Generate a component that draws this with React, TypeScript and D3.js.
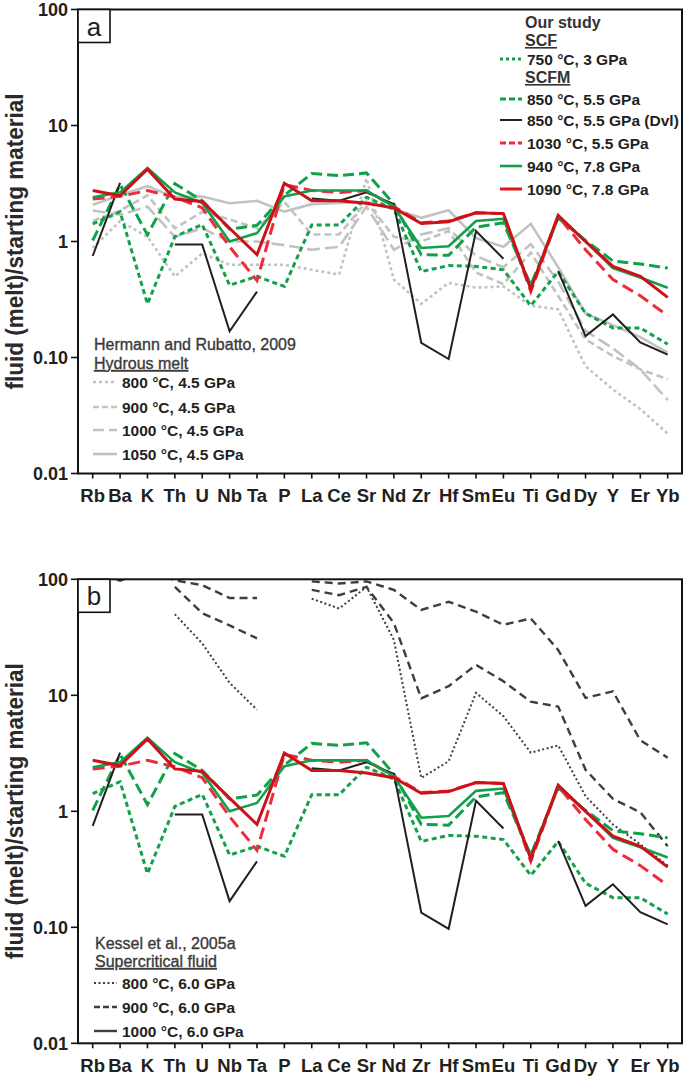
import React from 'react';
import * as d3 from 'd3';

type V = number | null;

const ELEMENTS = ["Rb","Ba","K","Th","U","Nb","Ta","P","La","Ce","Sr","Nd","Zr","Hf","Sm","Eu","Ti","Gd","Dy","Y","Er","Yb"];
const Y_TICKS = [100, 10, 1, 0.1, 0.01];
const Y_TICK_LABELS = ["100", "10", "1", "0.10", "0.01"];

// Our study
const SCF_750_3: V[] = [1.42, 1.8, 0.29, 1.1, 1.4, 0.42, 0.5, 0.41, 1.39, 1.39, 2.4, 1.9, 0.55, 0.62, 0.61, 0.57, 0.28, 0.55, 0.24, 0.18, 0.18, 0.13];
const SCFM_850_55: V[] = [1.02, 3.1, 1.14, 3.15, 2.25, 1.28, 1.38, 2.5, 3.85, 3.7, 3.9, 2.1, 0.77, 0.76, 1.33, 1.45, 0.42, 1.6, 1.02, 0.68, 0.64, 0.59];
const SCFM_850_55_DVL: V[] = [0.75, 3.2, null, 0.94, 0.94, 0.168, 0.37, null, 2.35, 2.25, 2.65, 2.1, 0.134, 0.097, 1.23, 0.71, null, 0.555, 0.153, 0.235, 0.135, 0.106];
const SCFM_1030_55: V[] = [2.32, 2.45, 2.75, 2.42, 1.95, 0.9, 0.46, 3.1, 2.75, 2.65, 2.75, 2.0, 1.45, 1.5, 1.77, 1.74, 0.37, 1.65, 0.85, 0.47, 0.34, 0.23];
const SCFM_940_78: V[] = [2.4, 2.65, 4.3, 2.65, 2.15, 1.0, 1.18, 2.45, 2.75, 2.75, 2.75, 2.0, 0.88, 0.91, 1.5, 1.57, 0.4, 1.65, 1.0, 0.59, 0.49, 0.4];
const SCFM_1090_78: V[] = [2.75, 2.48, 4.2, 2.32, 2.21, 1.3, 0.77, 3.18, 2.25, 2.25, 2.14, 1.95, 1.43, 1.48, 1.77, 1.74, 0.39, 1.68, 1.0, 0.61, 0.5, 0.33];

// Hermann and Rubatto, 2009 (hydrous melt, 4.5 GPa)
const HR_800: V[] = [0.88, 1.5, 1.1, 0.5, 0.79, 0.63, 0.63, 0.63, 0.57, 0.52, 3.5, 0.47, 0.29, 0.44, 0.4, 0.41, 0.28, 0.26, 0.084, 0.053, 0.036, 0.022];
const HR_900: V[] = [1.5, 1.85, 2.5, 1.3, 1.8, 1.55, 1.3, 2.2, 1.15, 1.15, 2.2, 1.1, 1.0, 1.23, 0.54, 0.43, 0.8, 0.34, 0.143, 0.103, 0.079, 0.065];
const HR_1000: V[] = [1.85, 1.7, 2.0, 1.1, 1.3, 1.0, 1.0, 0.93, 0.85, 0.9, 2.0, 0.85, 1.15, 1.3, 0.75, 0.6, 0.95, 0.45, 0.17, 0.12, 0.079, 0.043];
const HR_1050: V[] = [2.07, 2.5, 3.0, 2.4, 2.44, 2.14, 2.24, 1.81, 2.1, 2.15, 2.2, 1.9, 1.6, 1.86, 1.07, 0.9, 1.42, 0.6, 0.24, 0.19, 0.15, 0.11];

// Kessel et al., 2005a (supercritical fluid, 6.0 GPa)
const K_800: V[] = [null, null, null, 50, 28, 12.8, 7.5, null, 68, 56, 86, 30, 1.94, 2.7, 10.5, 6.6, 3.2, 3.7, 1.35, 0.77, 0.52, 0.34];
const K_900: V[] = [null, null, null, 86, 51, 40, 31, null, 81, 73, 86, 42, 9.4, 12, 18.3, 13.2, 8.8, 8.0, 2.28, 1.28, 0.98, 0.5];
const K_1000: V[] = [120, 97, 120, 98, 89, 69, 69, null, 96, 92, 96, 81, 54.5, 64, 52.6, 40.5, 46, 24.6, 9.5, 10.8, 4.1, 2.9];

const FONT = "'Liberation Sans', Arial, Helvetica, sans-serif";
const GREEN = "#13a04b";
const RED = "#cc1118";
const RED_D = "#ee2a3b";
const BLACK = "#231f20";
const GRAY = "#c2c2c2";
const DGRAY = "#3e3e3e";

const X_LEFT = 78;
const X_RIGHT = 682;
const xScale = d3.scalePoint<string>().domain(ELEMENTS).range([92.7, 667.7]);

type Style = { color: string; width: number; dash?: string };
type Series = { name: string; values: V[]; style: Style };

const S_SCF750: Style = { color: GREEN, width: 3, dash: "5,3.5" };
const S_850: Style = { color: GREEN, width: 3, dash: "11,5" };
const S_DVL: Style = { color: BLACK, width: 2 };
const S_1030: Style = { color: RED_D, width: 3, dash: "12,6" };
const S_940: Style = { color: GREEN, width: 2.6 };
const S_1090: Style = { color: RED, width: 3 };
const S_HR800: Style = { color: GRAY, width: 2.6, dash: "3,3" };
const S_HR900: Style = { color: GRAY, width: 2.6, dash: "7,4" };
const S_HR1000: Style = { color: GRAY, width: 2.6, dash: "13,5" };
const S_HR1050: Style = { color: GRAY, width: 2.6 };
const S_K800: Style = { color: DGRAY, width: 2, dash: "2,2.5" };
const S_K900: Style = { color: DGRAY, width: 2.4, dash: "8,5" };
const S_K1000: Style = { color: DGRAY, width: 2.4, dash: "8,5" };

const OUR: Series[] = [
  { name: "750", values: SCF_750_3, style: S_SCF750 },
  { name: "850", values: SCFM_850_55, style: S_850 },
  { name: "dvl", values: SCFM_850_55_DVL, style: S_DVL },
  { name: "1030", values: SCFM_1030_55, style: S_1030 },
  { name: "940", values: SCFM_940_78, style: S_940 },
  { name: "1090", values: SCFM_1090_78, style: S_1090 },
];
const HR: Series[] = [
  { name: "hr800", values: HR_800, style: S_HR800 },
  { name: "hr900", values: HR_900, style: S_HR900 },
  { name: "hr1000", values: HR_1000, style: S_HR1000 },
  { name: "hr1050", values: HR_1050, style: S_HR1050 },
];
const KES: Series[] = [
  { name: "k800", values: K_800, style: S_K800 },
  { name: "k900", values: K_900, style: S_K900 },
  { name: "k1000", values: K_1000, style: S_K1000 },
];

type LegendItem = { kind: 'head' | 'sub' | 'item'; text: string; style?: Style; y: number; bold?: boolean };

function LegendBlock({ items, textX, lineX0, lineX1, headColor }: { items: LegendItem[]; textX: number; lineX0: number; lineX1: number; headColor: string }) {
  return (
    <g fontFamily={FONT}>
      {items.map((it, i) => {
        if (it.kind === 'item') {
          return (
            <g key={i}>
              <line x1={lineX0} x2={lineX1} y1={it.y} y2={it.y} stroke={it.style!.color} strokeWidth={it.style!.width} strokeDasharray={it.style!.dash} />
              <text x={lineX1 + 5} y={it.y + 6} fontSize={15.5} fontWeight="bold" fill={BLACK}>{it.text}</text>
            </g>
          );
        }
        return (
          <text key={i} x={textX} y={it.y + 6} fontSize={16} fontWeight={it.bold ? 'bold' : 'normal'} fill={headColor}
            stroke={it.bold ? undefined : headColor} strokeWidth={it.bold ? undefined : 0.35}
            textDecoration={it.kind === 'sub' ? 'underline' : undefined}>{it.text}</text>
        );
      })}
    </g>
  );
}

function Panel({ top, bottom, label, series, id, children }: { top: number; bottom: number; label: string; series: Series[]; id: string; children?: React.ReactNode }) {
  const y = d3.scaleLog().domain([0.01, 100]).range([bottom, top]);
  const line = d3.line<V>()
    .defined(d => d != null)
    .x((_, i) => xScale(ELEMENTS[i]) as number)
    .y(d => y(d as number));
  const midY = (top + bottom) / 2;
  return (
    <g>
      <defs>
        <clipPath id={id}>
          <rect x={X_LEFT} y={top} width={X_RIGHT - X_LEFT} height={bottom - top} />
        </clipPath>
      </defs>
      <g clipPath={`url(#${id})`}>
        {series.map(s => (
          <path key={s.name} d={line(s.values) || ''} fill="none" stroke={s.style.color} strokeWidth={s.style.width}
            strokeDasharray={s.style.dash} strokeLinejoin="miter" strokeMiterlimit={3} />
        ))}
      </g>
      {children}
      <rect x={X_LEFT} y={top} width={X_RIGHT - X_LEFT} height={bottom - top} fill="none" stroke="#111" strokeWidth={2} />
      {Y_TICKS.map((t, i) => (
        <g key={t}>
          <line x1={X_LEFT - 7} x2={X_LEFT} y1={y(t)} y2={y(t)} stroke="#111" strokeWidth={1.6} />
          <text x={68} y={y(t) + 6.5} textAnchor="end" fontFamily={FONT} fontWeight="bold" fontSize={18} fill={BLACK}>{Y_TICK_LABELS[i]}</text>
        </g>
      ))}
      {ELEMENTS.map(e => (
        <g key={e}>
          <line x1={xScale(e)} x2={xScale(e)} y1={bottom} y2={bottom + 5} stroke="#111" strokeWidth={1.6} />
          <text x={xScale(e)} y={bottom + 28.5} textAnchor="middle" fontFamily={FONT} fontWeight="bold" fontSize={18.5} fill={BLACK}>{e}</text>
        </g>
      ))}
      <text transform={`translate(23,${midY}) rotate(-90)`} textAnchor="middle" fontFamily={FONT} fontWeight="bold" fontSize={23}
        fill="#2a2a2a" textLength={296} lengthAdjust="spacingAndGlyphs">fluid (melt)/starting material</text>
      <rect x={X_LEFT} y={top} width={32} height={33} fill="white" stroke="#111" strokeWidth={1.6} />
      <text x={X_LEFT + 16} y={top + 26} textAnchor="middle" fontFamily={FONT} fontSize={26} fill={BLACK}>{label}</text>
    </g>
  );
}

export default function App() {
  const topA = 9.5, botA = 473.5;
  const topB = 579.3, botB = 1043.3;

  const ourLegend: LegendItem[] = [
    { kind: 'head', text: 'Our study', y: 22, bold: true },
    { kind: 'sub', text: 'SCF', y: 40, bold: true },
    { kind: 'item', text: '750 °C, 3 GPa', style: { ...S_SCF750, dash: "3,3" }, y: 59 },
    { kind: 'sub', text: 'SCFM', y: 77, bold: true },
    { kind: 'item', text: '850 °C, 5.5 GPa', style: { ...S_850, dash: "6,3" }, y: 99 },
    { kind: 'item', text: '850 °C, 5.5 GPa (Dvl)', style: S_DVL, y: 120 },
    { kind: 'item', text: '1030 °C, 5.5 GPa', style: { ...S_1030, dash: "6,3" }, y: 143 },
    { kind: 'item', text: '940 °C, 7.8 GPa', style: S_940, y: 166 },
    { kind: 'item', text: '1090 °C, 7.8 GPa', style: { ...S_1090, color: "#e3141c" }, y: 189 },
  ];
  const hrLegend: LegendItem[] = [
    { kind: 'head', text: 'Hermann and Rubatto, 2009', y: 344 },
    { kind: 'sub', text: 'Hydrous melt', y: 363 },
    { kind: 'item', text: '800 °C, 4.5 GPa', style: S_HR800, y: 382 },
    { kind: 'item', text: '900 °C, 4.5 GPa', style: { ...S_HR900, dash: "6,3" }, y: 407 },
    { kind: 'item', text: '1000 °C, 4.5 GPa', style: { ...S_HR1000, dash: "11,5" }, y: 430 },
    { kind: 'item', text: '1050 °C, 4.5 GPa', style: S_HR1050, y: 454 },
  ];
  const kLegend: LegendItem[] = [
    { kind: 'head', text: 'Kessel et al., 2005a', y: 943 },
    { kind: 'sub', text: 'Supercritical fluid', y: 961 },
    { kind: 'item', text: '800 °C, 6.0 GPa', style: S_K800, y: 983 },
    { kind: 'item', text: '900 °C, 6.0 GPa', style: { ...S_K900, dash: "6,3" }, y: 1007 },
    { kind: 'item', text: '1000 °C, 6.0 GPa', style: { color: DGRAY, width: 2.4 }, y: 1031 },
  ];

  return (
    <svg width={685} height={1077} viewBox="0 0 685 1077" style={{ position: 'absolute', left: 0, top: 0, background: 'white' }}>
      <rect x={0} y={0} width={685} height={1077} fill="white" />
      <Panel top={topA} bottom={botA} label="a" series={[...HR, ...OUR]} id="clipA">
        <LegendBlock items={ourLegend} textX={525} lineX0={500} lineX1={522} headColor="#333" />
        <LegendBlock items={hrLegend} textX={94} lineX0={93} lineX1={117} headColor="#3a3a3a" />
      </Panel>
      <Panel top={topB} bottom={botB} label="b" series={[...KES, ...OUR]} id="clipB">
        <LegendBlock items={kLegend} textX={95} lineX0={94} lineX1={117} headColor="#3a3a3a" />
      </Panel>
    </svg>
  );
}
